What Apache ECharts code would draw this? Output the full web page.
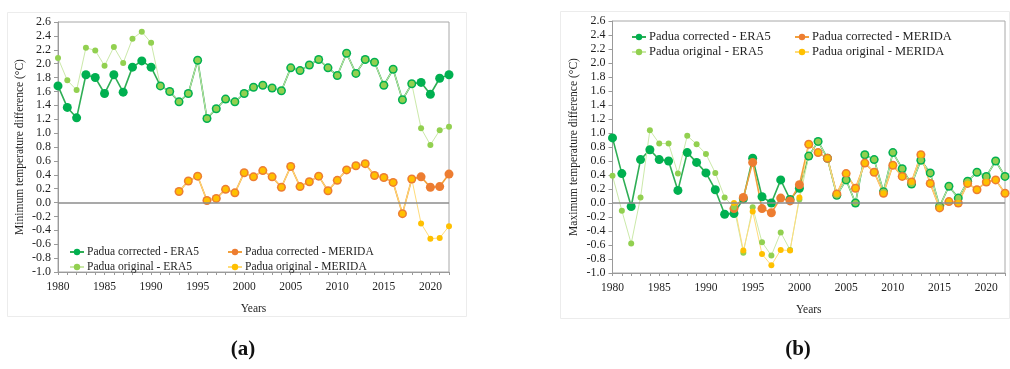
<!DOCTYPE html>
<html>
<head>
<meta charset="utf-8">
<script src="https://cdn.jsdelivr.net/npm/echarts@6/dist/echarts.min.js"></script>
<style>
  html, body { margin: 0; padding: 0; background: #ffffff; }
  #chart { width: 1010px; height: 369px; }
</style>
</head>
<body>
<div id="chart"></div>
<script>
// Years on the horizontal axis
const years = [
  1980, 1981, 1982, 1983, 1984, 1985, 1986, 1987, 1988, 1989,
  1990, 1991, 1992, 1993, 1994, 1995, 1996, 1997, 1998, 1999,
  2000, 2001, 2002, 2003, 2004, 2005, 2006, 2007, 2008, 2009,
  2010, 2011, 2012, 2013, 2014, 2015, 2016, 2017, 2018, 2019,
  2020, 2021, 2022
];

// (a) Minimum temperature difference (°C)
const minCorrectedERA5 = [
  1.68, 1.37, 1.22, 1.84, 1.80, 1.57, 1.84, 1.59, 1.95, 2.04,
  1.95, 1.68, 1.60, 1.45, 1.57, 2.05, 1.21, 1.35, 1.49, 1.45,
  1.57, 1.66, 1.69, 1.65, 1.61, 1.94, 1.90, 1.98, 2.06, 1.94,
  1.83, 2.15, 1.86, 2.06, 2.02, 1.69, 1.92, 1.48, 1.71, 1.73,
  1.56, 1.79, 1.84
];
const minOriginalERA5 = [
  2.08, 1.76, 1.62, 2.23, 2.19, 1.97, 2.24, 2.01, 2.36, 2.46,
  2.30, 1.68, 1.60, 1.45, 1.57, 2.05, 1.21, 1.35, 1.49, 1.45,
  1.57, 1.66, 1.69, 1.65, 1.61, 1.94, 1.90, 1.98, 2.06, 1.94,
  1.83, 2.15, 1.86, 2.06, 2.02, 1.69, 1.92, 1.48, 1.71, 1.07,
  0.83, 1.04, 1.09
];
const minCorrectedMERIDA = [
  null, null, null, null, null, null, null, null, null, null,
  null, null, null, 0.16, 0.31, 0.38, 0.03, 0.06, 0.19, 0.14,
  0.43, 0.37, 0.46, 0.37, 0.22, 0.52, 0.23, 0.30, 0.38, 0.17,
  0.32, 0.47, 0.53, 0.56, 0.39, 0.36, 0.29, -0.16, 0.34, 0.37,
  0.22, 0.23, 0.41
];
const minOriginalMERIDA = [
  null, null, null, null, null, null, null, null, null, null,
  null, null, null, 0.16, 0.31, 0.38, 0.03, 0.06, 0.19, 0.14,
  0.43, 0.37, 0.46, 0.37, 0.22, 0.52, 0.23, 0.30, 0.38, 0.17,
  0.32, 0.47, 0.53, 0.56, 0.39, 0.36, 0.29, -0.16, 0.34, -0.30,
  -0.52, -0.51, -0.34
];

// (b) Maximum temperature difference (°C)
const maxCorrectedERA5 = [
  0.93, 0.42, -0.05, 0.62, 0.76, 0.62, 0.60, 0.18, 0.72, 0.58,
  0.43, 0.19, -0.16, -0.15, 0.06, 0.64, 0.09, 0.00, 0.33, 0.05,
  0.21, 0.67, 0.88, 0.64, 0.11, 0.33, 0.00, 0.69, 0.62, 0.16,
  0.72, 0.49, 0.27, 0.61, 0.43, -0.05, 0.24, 0.07, 0.31, 0.44,
  0.38, 0.60, 0.38
];
const maxOriginalERA5 = [
  0.39, -0.11, -0.58, 0.08, 1.04, 0.85, 0.85, 0.42, 0.96, 0.84,
  0.70, 0.43, 0.08, -0.06, -0.71, -0.06, -0.56, -0.75, -0.42, -0.67,
  0.05, 0.67, 0.88, 0.64, 0.11, 0.33, 0.00, 0.69, 0.62, 0.16,
  0.72, 0.49, 0.27, 0.61, 0.43, -0.05, 0.24, 0.07, 0.31, 0.44,
  0.38, 0.60, 0.38
];
const maxCorrectedMERIDA = [
  null, null, null, null, null, null, null, null, null, null,
  null, null, null, -0.08, 0.08, 0.58, -0.08, -0.14, 0.07, 0.03,
  0.26, 0.84, 0.72, 0.64, 0.13, 0.42, 0.21, 0.57, 0.44, 0.14,
  0.54, 0.38, 0.30, 0.69, 0.28, -0.07, 0.02, 0.00, 0.28, 0.19,
  0.30, 0.33, 0.14
];
const maxOriginalMERIDA = [
  null, null, null, null, null, null, null, null, null, null,
  null, null, null, 0.00, -0.68, -0.12, -0.73, -0.89, -0.67, -0.68,
  0.08, 0.84, 0.72, 0.64, 0.13, 0.42, 0.21, 0.57, 0.44, 0.14,
  0.54, 0.38, 0.30, 0.69, 0.28, -0.07, 0.02, 0.00, 0.28, 0.19,
  0.30, 0.33, 0.14
];

// Y axis range and step shared by both panels
const yMin = -1.0, yMax = 2.6, yStep = 0.2;

const seriesNames = {
  corrERA5: 'Padua corrected - ERA5',
  corrMERIDA: 'Padua corrected - MERIDA',
  origERA5: 'Padua original - ERA5',
  origMERIDA: 'Padua original - MERIDA'
};

const FONT = '"Liberation Serif", "Times New Roman", serif';
const TEXT = '#1f1f1f';
const AXIS = '#9a9a9a';

function corrected(name, data, idx, color, lineColor) {
  return {
    name, type: 'line', xAxisIndex: idx, yAxisIndex: idx, data,
    symbol: 'circle', symbolSize: 9, showSymbol: true, showAllSymbol: true,
    itemStyle: { color: color },
    lineStyle: { color: lineColor, width: 1.6 },
    emphasis: { disabled: true }, silent: true
  };
}
function original(name, data, idx, color, lineColor) {
  return {
    name, type: 'line', xAxisIndex: idx, yAxisIndex: idx, data,
    symbol: 'circle', symbolSize: 6, showSymbol: true, showAllSymbol: true,
    itemStyle: { color: color },
    lineStyle: { color: lineColor, width: 1 },
    emphasis: { disabled: true }, silent: true
  };
}
function zeroLine() {
  return {
    silent: true, symbol: 'none', label: { show: false },
    lineStyle: { color: '#8c8c8c', width: 1.5, type: 'solid' },
    data: [{ yAxis: 0 }]
  };
}

function xAxis(idx) {
  return {
    type: 'category', gridIndex: idx, data: years, boundaryGap: false,
    name: 'Years', nameLocation: 'middle', nameGap: 31,
    nameTextStyle: { fontFamily: FONT, fontSize: 11.5, color: TEXT },
    axisLine: { onZero: false, lineStyle: { color: AXIS, width: 1 } },
    axisTick: { show: true, interval: 0, length: 3, lineStyle: { color: AXIS } },
    axisLabel: { interval: 4, margin: 9, fontFamily: FONT, fontSize: 11.5, color: TEXT },
    splitLine: { show: false }
  };
}
function yAxis(idx, title, gap) {
  return {
    type: 'value', gridIndex: idx, min: yMin, max: yMax, interval: yStep,
    name: title, nameLocation: 'middle', nameRotate: 90, nameGap: gap,
    nameTextStyle: { fontFamily: FONT, fontSize: 11.5, color: TEXT },
    axisLine: { show: true, lineStyle: { color: AXIS, width: 1 } },
    axisTick: { show: true, length: 4, lineStyle: { color: AXIS } },
    axisLabel: { margin: 7, fontFamily: FONT, fontSize: 12, color: TEXT,
                 formatter: v => v.toFixed(1) },
    splitLine: { show: false }
  };
}
function legend(left, top, names, size) {
  return {
    left, top, orient: 'vertical', itemGap: 1, itemWidth: 14, itemHeight: 8,
    selectedMode: false, data: names,
    textStyle: { fontFamily: FONT, fontSize: size, color: TEXT, lineHeight: 14, padding: [0, 0, 0, -2] }
  };
}

const GREEN = '#00b050', GREEN_LINE = '#2fae55';
const LIGHT_GREEN = '#92d050', LIGHT_GREEN_LINE = '#cbe9a9';
const ORANGE = '#ed7d31', ORANGE_LINE = '#f2a03c';
const GOLD = '#ffc000', GOLD_LINE = '#ffdc7a';

const leftCorrERA5 = corrected(seriesNames.corrERA5, minCorrectedERA5, 0, GREEN, GREEN_LINE);
leftCorrERA5.markLine = zeroLine();
const rightCorrERA5 = corrected(seriesNames.corrERA5, maxCorrectedERA5, 1, GREEN, GREEN_LINE);
rightCorrERA5.markLine = zeroLine();

const option = {
  backgroundColor: '#ffffff',
  animation: false,
  title: [
    { text: '(a)', left: 238, top: 334, textAlign: 'center',
      textStyle: { fontFamily: FONT, fontWeight: 'bold', fontSize: 21, color: '#111' } },
    { text: '(b)', left: 793, top: 334, textAlign: 'center',
      textStyle: { fontFamily: FONT, fontWeight: 'bold', fontSize: 21, color: '#111' } }
  ],
  graphic: [
    { type: 'rect', shape: { x: 7.5, y: 12.5, width: 459, height: 304 },
      style: { fill: 'none', stroke: '#ececec', lineWidth: 1 }, silent: true },
    { type: 'rect', shape: { x: 560.5, y: 11.5, width: 449, height: 307 },
      style: { fill: 'none', stroke: '#ececec', lineWidth: 1 }, silent: true }
  ],
  grid: [
    { left: 58, top: 22, width: 391, height: 250, show: true, borderColor: '#a8a8a8', borderWidth: 1, backgroundColor: 'transparent' },
    { left: 612.5, top: 21, width: 392.5, height: 252, show: true, borderColor: '#a8a8a8', borderWidth: 1, backgroundColor: 'transparent' }
  ],
  xAxis: [xAxis(0), xAxis(1)],
  yAxis: [
    yAxis(0, 'Minimum temperature difference (°C)', 32),
    yAxis(1, 'Maximum temperature difference (°C)', 33)
  ],
  legend: [
    legend(64, 240, [seriesNames.corrERA5, seriesNames.origERA5], 11.5),
    legend(222, 240, [seriesNames.corrMERIDA, seriesNames.origMERIDA], 11.5),
    legend(626, 25, [seriesNames.corrERA5, seriesNames.origERA5], 12.5),
    legend(789, 25, [seriesNames.corrMERIDA, seriesNames.origMERIDA], 12.5)
  ],
  series: [
    leftCorrERA5,
    corrected(seriesNames.corrMERIDA, minCorrectedMERIDA, 0, ORANGE, ORANGE_LINE),
    original(seriesNames.origERA5, minOriginalERA5, 0, LIGHT_GREEN, LIGHT_GREEN_LINE),
    original(seriesNames.origMERIDA, minOriginalMERIDA, 0, GOLD, GOLD_LINE),
    rightCorrERA5,
    corrected(seriesNames.corrMERIDA, maxCorrectedMERIDA, 1, ORANGE, ORANGE_LINE),
    original(seriesNames.origERA5, maxOriginalERA5, 1, LIGHT_GREEN, LIGHT_GREEN_LINE),
    original(seriesNames.origMERIDA, maxOriginalMERIDA, 1, GOLD, GOLD_LINE)
  ]
};

const chart = echarts.init(document.getElementById('chart'), null, { renderer: 'canvas' });
chart.setOption(option);
</script>
</body>
</html>
